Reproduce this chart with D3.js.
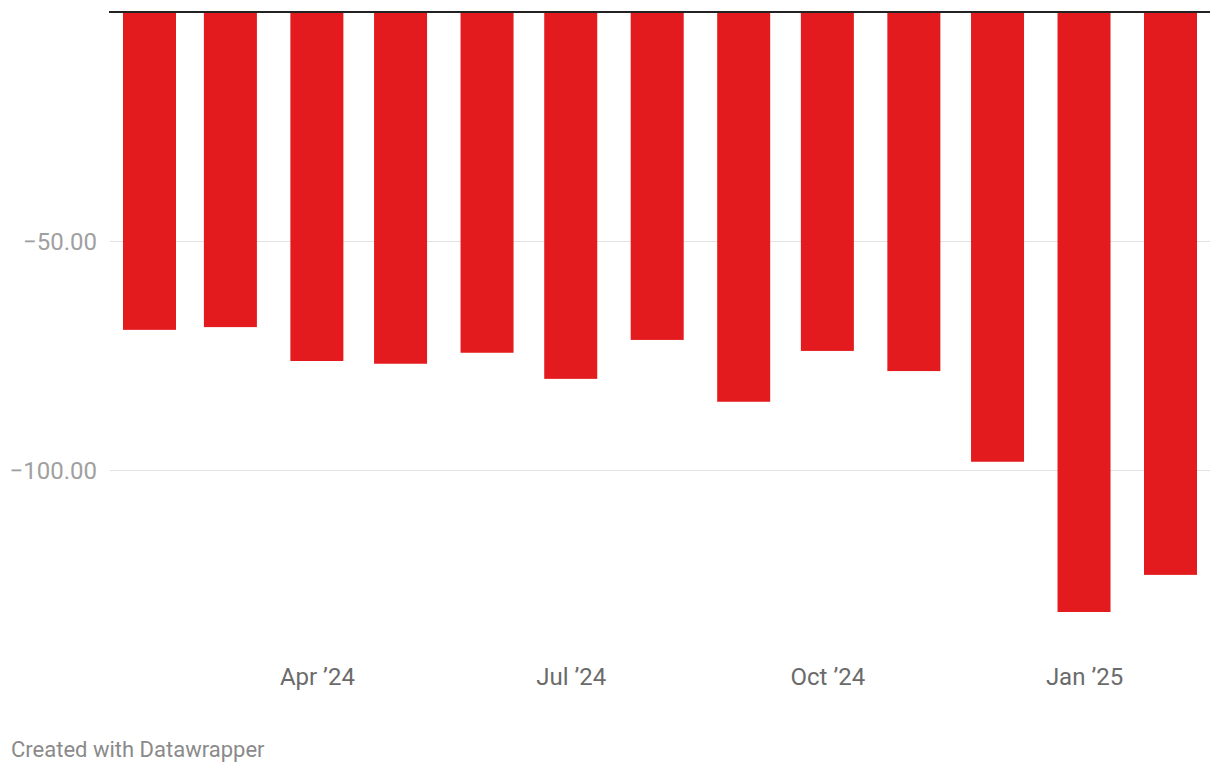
<!DOCTYPE html>
<html>
<head>
<meta charset="utf-8">
<script src="https://cdn.jsdelivr.net/npm/d3@7"></script>
<style>
  body { margin: 0; background: #fff; font-family: Roboto, sans-serif; }
  svg text { font-family: Roboto, sans-serif; }
</style>
</head>
<body>
<svg id="chart"></svg>
<script>
// monthly values, Feb 2024 - Feb 2025
var months = ['2024-02', '2024-03', '2024-04', '2024-05', '2024-06', '2024-07', '2024-08',
              '2024-09', '2024-10', '2024-11', '2024-12', '2025-01', '2025-02'];
var values = [-69.4, -68.8, -76.2, -76.8, -74.4, -80.1, -71.6, -85.1, -74.0, -78.4, -98.2, -131.0, -122.9];
var yTicks = [-50, -100];
var xTicks = ['2024-04', '2024-07', '2024-10', '2025-01'];

var width = 1220;
var height = 772;
var parse = d3.timeParse('%Y-%m');
var data = months.map((m, i) => ({ date: parse(m), value: values[i] }));

var svg = d3.select('#chart')
    .attr('width', width)
    .attr('height', height);

var left = 110, right = 1210;
var pad = 14.16 * 24 * 3600 * 1000;
var xScale = d3.scaleTime()
    .domain([+data[0].date - pad, +data[data.length - 1].date + pad])
    .range([left, right]);

var yScale = d3.scaleLinear()
    .domain([0, -50])
    .range([12, 241]);

var barWidth = 53;

// grid
var yAxis = d3.axisLeft(yScale)
    .tickValues(yTicks)
    .tickSize(-(right - left))
    .tickFormat(d => d3.format('.2f')(d).replace('-', '\u2212'));

var gy = svg.append('g')
    .attr('transform', 'translate(' + left + ',0)')
    .call(yAxis);
gy.select('.domain').remove();
gy.selectAll('.tick line').attr('stroke', '#e2e2e2').attr('stroke-width', 1);
gy.selectAll('.tick text')
    .attr('fill', '#a0a0a0')
    .attr('font-size', '24px')
    .attr('x', -13)
    .attr('dy', '0.35em');

svg.selectAll('rect.bar')
    .data(data)
  .enter()
  .append('rect')
    .classed('bar', true)
    .attr('x', d => xScale(d.date) - barWidth / 2)
    .attr('y', yScale(0))
    .attr('width', barWidth)
    .attr('height', d => yScale(d.value) - yScale(0))
    .attr('fill', '#e31b1e');

// zero line
svg.append('line')
    .attr('x1', left - 1)
    .attr('x2', right)
    .attr('y1', yScale(0))
    .attr('y2', yScale(0))
    .attr('stroke', '#222')
    .attr('stroke-width', 2);

var xAxis = d3.axisBottom(xScale)
    .tickValues(xTicks.map(parse))
    .tickSize(0)
    .tickFormat(d3.timeFormat('%b \u2019%y'));

var gx = svg.append('g')
    .attr('transform', 'translate(0,685)')
    .call(xAxis);
gx.select('.domain').remove();
gx.selectAll('.tick text')
    .attr('fill', '#6b6b6b')
    .attr('font-size', '24px')
    .attr('y', 0)
    .attr('dy', 0);

svg.append('text')
    .attr('x', 11)
    .attr('y', 757)
    .attr('fill', '#8a8a8a')
    .attr('font-size', '22px')
    .text('Created with Datawrapper');
</script>
</body>
</html>
